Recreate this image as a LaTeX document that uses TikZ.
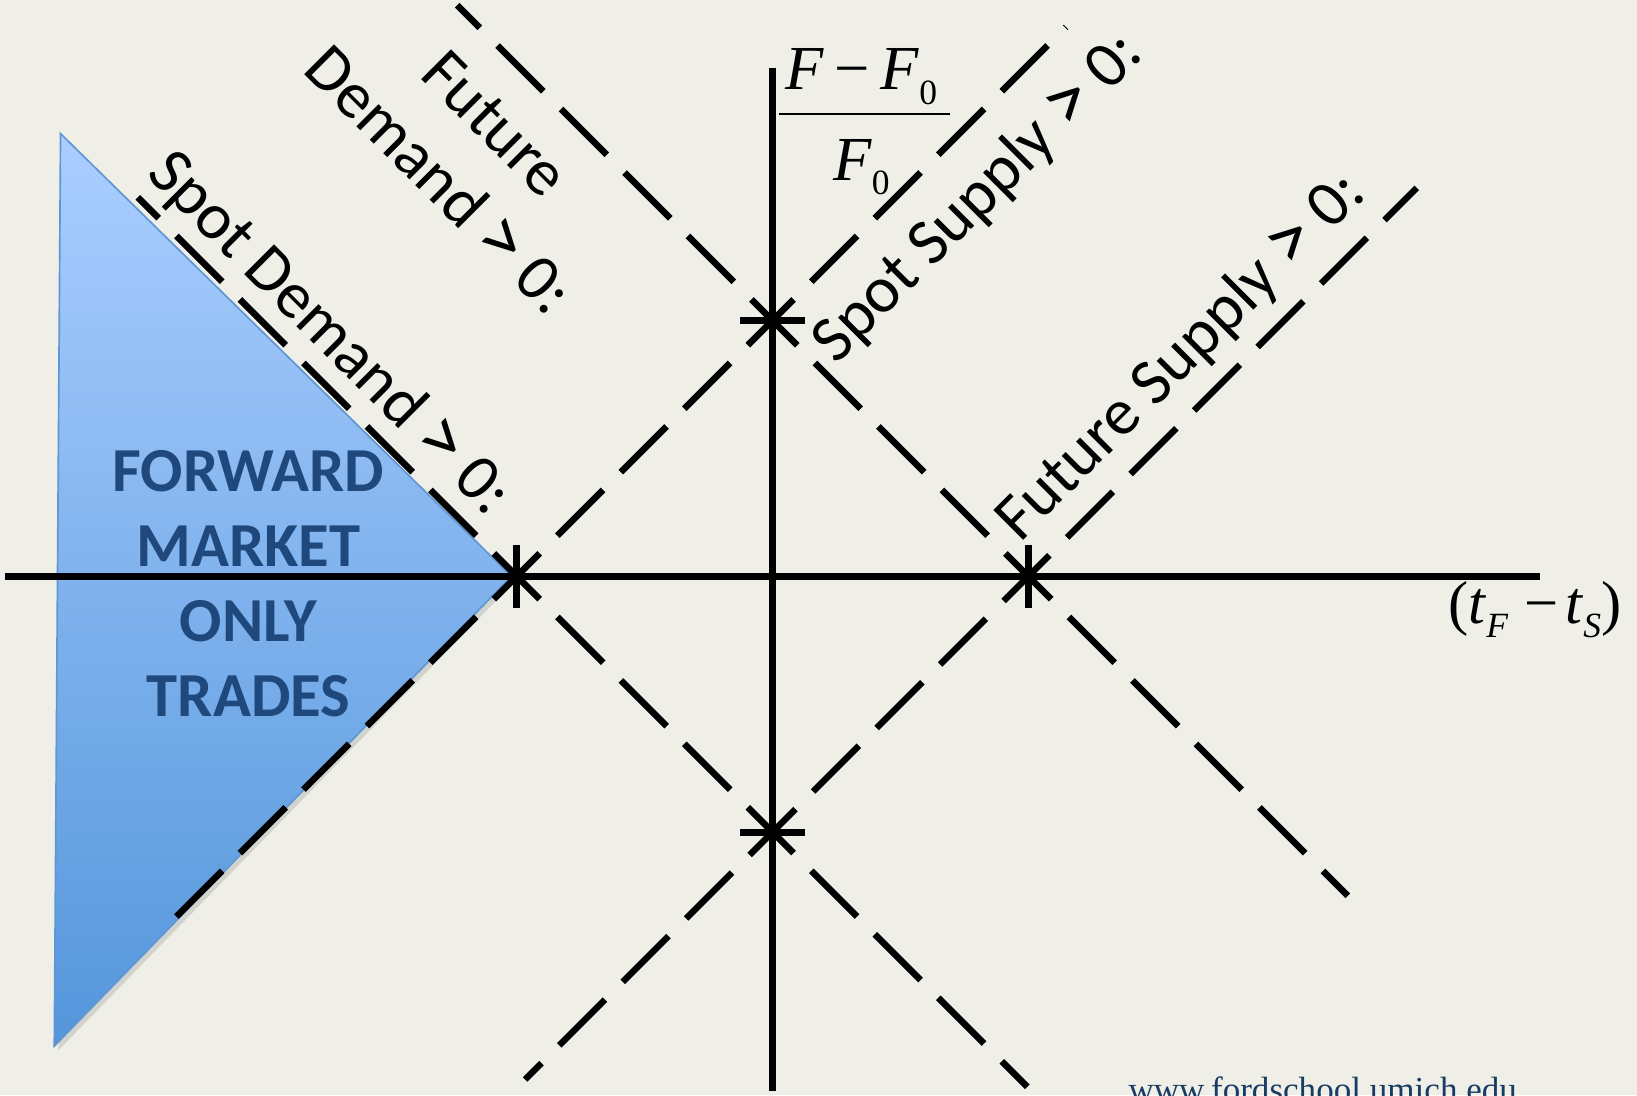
\documentclass[tikz,border=0pt]{standalone}
\usepackage{fontspec}
\usepackage{graphicx}
\newfontfamily\calfont{Carlito}
\newfontfamily\tnr{Liberation Serif}
\usetikzlibrary{shadows}
\definecolor{bgcol}{RGB}{239,239,231}
\definecolor{triTop}{RGB}{171,206,255}
\definecolor{triBot}{RGB}{84,150,219}
\definecolor{triEdge}{RGB}{95,150,212}
\definecolor{fwdBlue}{RGB}{31,73,125}
\definecolor{urlBlue}{RGB}{25,60,100}
\setlength{\arrayrulewidth}{1.4pt}
\newcommand{\subz}[1]{\raisebox{-7pt}{\fontsize{17}{17}\selectfont #1}}
\newcommand{\bigGt}{\raisebox{-1pt}{\scalebox{1.25}{>}}}

\begin{document}
\begin{tikzpicture}[
x=0.5pt, y=0.5pt,
every node/.style={inner sep=0pt},
axisline/.style={line width=3.4pt},
dashline/.style={line width=3.1pt, dash pattern=on 31pt off 12pt, dash phase=15.5pt},
tickmark/.style={line width=3.4pt},
lbl/.style={font=\calfont\fontsize{31.5}{38}\selectfont, align=center}
]
\useasboundingbox (-740,-497) rectangle (828,552);
\clip (-740,-497) rectangle (828,552);
\fill[bgcol] (-740,-497) rectangle (828,552);

\coordinate (O) at (0,0);
\coordinate (A) at (-245,0);
\coordinate (B) at (245,0);
\coordinate (C) at (0,245);
\coordinate (D) at (0,-245);
\coordinate (xl) at (-735,0);
\coordinate (xr) at (735,0);
\coordinate (yt) at (0,487);
\coordinate (yb) at (0,-493);
\coordinate (l1s) at (-574,-329);
\coordinate (l1e) at (281,526);
\coordinate (l2s) at (-302,547);
\coordinate (l2e) at (551,-306);
\coordinate (l3s) at (-608,363);
\coordinate (l3e) at (244,-489);
\coordinate (l4s) at (-237,-482);
\coordinate (l4e) at (617,372);

% forward market region
\shade[top color=triTop, bottom color=triBot, draw=triEdge, line width=0.8pt,
  drop shadow={opacity=0.25, shadow xshift=2pt, shadow yshift=-2pt}]
  (-682,424) -- (-250,0) -- (-688,-450) -- cycle;
\node[font=\calfont\bfseries\fontsize{30}{36}\selectfont, text=fwdBlue, align=center] (fwd) at (-502,-7)
  {FORWARD\\MARKET\\ONLY\\TRADES};

\draw[axisline] (xl) -- (xr);
\draw[axisline] (yt) -- (yb);

\draw[dashline] (A) -- (l1e);
\draw[dashline] (A) -- (l1s);
\draw[dashline] (B) -- (l2s);
\draw[dashline] (B) -- (l2e);
\draw[dashline] (A) -- (l3s);
\draw[dashline] (A) -- (l3e);
\draw[dashline] (D) -- (l4e);
\draw[dashline] (D) -- (l4s);

\foreach \p in {A,B} \draw[tickmark] (\p) ++(0,30) -- ++(0,-60);
\foreach \p in {C,D} \draw[tickmark] (\p) ++(-31,0) -- ++(62,0);

\node[lbl, rotate=-45] (spotdem) at (-425,232) {Spot Demand \bigGt{} 0:};
\node[lbl, rotate=-45] (futdem) at (-293,406) {Future\\Demand \bigGt{} 0:};
\node[lbl, rotate=45] (spotsup) at (197,362) {Spot Supply \bigGt{} 0:};
\node[lbl, rotate=45] (futsup) at (392,210) {Future Supply \bigGt{} 0:};

\node[font=\tnr\fontsize{30}{36}\selectfont] (ylbl) at (88,437)
  {\begin{tabular}{@{\hspace{3pt}}c@{\hspace{6pt}}}
   \textit{F}\,−\,\textit{F}\subz{0}\\ \hline
   \rule{0pt}{31pt}\textit{F}\subz{0}
   \end{tabular}};
\node[font=\tnr\fontsize{29}{34}\selectfont, anchor=base] (xlbl) at (730,-45)
  {(\textit{t}\subz{\itshape F}\hspace{8pt}−\hspace{3pt}\textit{t}\subz{\itshape S})};

\node[font=\tnr\fontsize{16.8}{20}\selectfont, text=urlBlue, anchor=base] (url) at (527,-503)
  {www.fordschool.umich.edu};
\end{tikzpicture}
\end{document}
